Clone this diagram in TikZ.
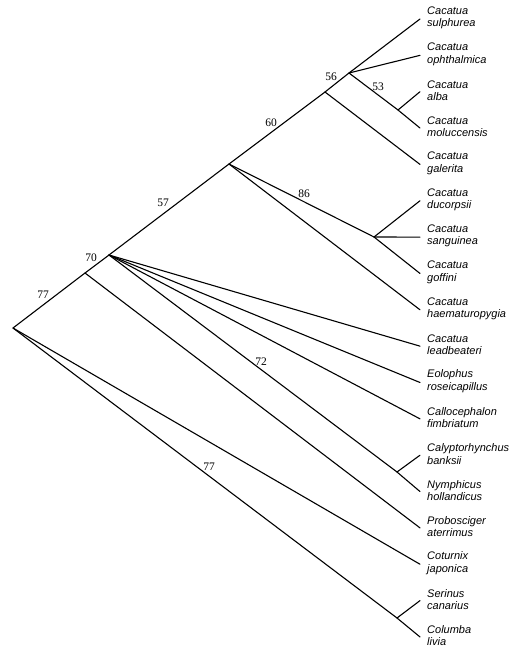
\documentclass[tikz,border=0pt]{standalone}
\usepackage{fontspec}
\setmainfont{Liberation Serif}
\newfontfamily\taxonfont{Liberation Sans}
\begin{document}
\begin{tikzpicture}[x=1pt,y=-1pt,
  branch/.style={line width=1.1pt, line cap=round},
  taxon/.style={anchor=west, inner sep=0pt, align=left,
    font=\taxonfont\itshape\fontsize{11}{12.5}\selectfont},
  support/.style={inner sep=0pt, font=\fontsize{11.5}{12}\selectfont}]
\useasboundingbox (0,0) rectangle (519,647);

% internal nodes
\coordinate (R)  at (13,328);
\coordinate (N1) at (85,273);
\coordinate (N2) at (109,255);
\coordinate (N3) at (229,164);
\coordinate (N4) at (325,92);
\coordinate (N5) at (349,73);
\coordinate (N6) at (398,110);
\coordinate (N7) at (374,237);
\coordinate (N8) at (397,472);
\coordinate (N9) at (397,618);

% tips and taxon names
\foreach \k/\a/\b in {
  0/Cacatua/sulphurea,
  1/Cacatua/ophthalmica,
  2/Cacatua/alba,
  3/Cacatua/moluccensis,
  4/Cacatua/galerita,
  5/Cacatua/ducorpsii,
  6/Cacatua/sanguinea,
  7/Cacatua/goffini,
  8/Cacatua/haematuropygia,
  9/Cacatua/leadbeateri,
  10/Eolophus/roseicapillus,
  11/Callocephalon/fimbriatum,
  12/Calyptorhynchus/banksii,
  13/Nymphicus/hollandicus,
  14/Probosciger/aterrimus,
  15/Coturnix/japonica,
  16/Serinus/canarius,
  17/Columba/livia}{
  \coordinate (t\k) at (420,19+36.35*\k);
  \node[taxon] (L\k) at (427,17.8+36.35*\k) {\a\\\b};
}

% branches
\draw[branch] (R) -- (N1);
\draw[branch] (R) -- (t15);
\draw[branch] (R) -- (N9);
\draw[branch] (N1) -- (N2);
\draw[branch] (N1) -- (t14);
\draw[branch] (N2) -- (N3);
\draw[branch] (N2) -- (t9);
\draw[branch] (N2) -- (t10);
\draw[branch] (N2) -- (t11);
\draw[branch] (N2) -- (N8);
\draw[branch] (N3) -- (N4);
\draw[branch] (N3) -- (N7);
\draw[branch] (N3) -- (t8);
\draw[branch] (N4) -- (N5);
\draw[branch] (N4) -- (t4);
\draw[branch] (N5) -- (t0);
\draw[branch] (N5) -- (t1);
\draw[branch] (N5) -- (N6);
\draw[branch] (N6) -- (t2);
\draw[branch] (N6) -- (t3);
\draw[branch] (N7) -- (t5);
\draw[branch] (N7) -- (t6);
\draw[branch] (N7) -- (t7);
\draw[branch] (N8) -- (t12);
\draw[branch] (N8) -- (t13);
\draw[branch] (N9) -- (t16);
\draw[branch] (N9) -- (t17);

% support values
\node[support] (s56) at (331,77)  {56};
\node[support] (s53) at (378,87)  {53};
\node[support] (s60) at (271,123) {60};
\node[support] (s57) at (163,203) {57};
\node[support] (s86) at (304,194) {86};
\node[support] (s70) at (91,258)  {70};
\node[support] (s77a) at (43,295) {77};
\node[support] (s72) at (261,362) {72};
\node[support] (s77b) at (209,467) {77};
\end{tikzpicture}
\end{document}
